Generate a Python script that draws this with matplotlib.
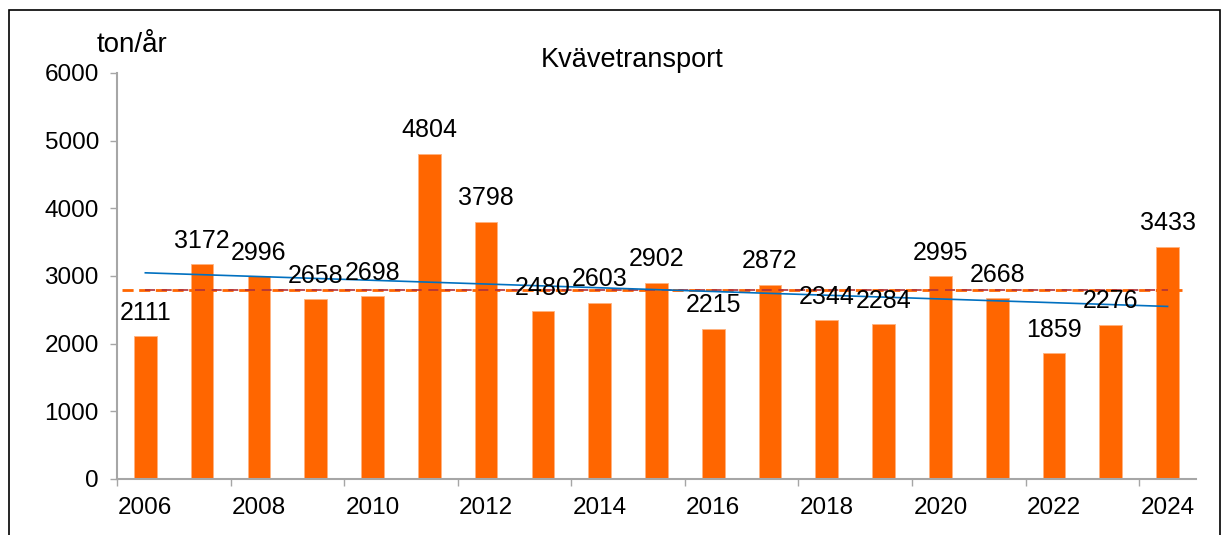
import numpy as np
import matplotlib
matplotlib.use('Agg')
import matplotlib.pyplot as plt
from matplotlib.patches import Rectangle

plt.rcParams['font.family'] = ['Liberation Sans', 'DejaVu Sans']

#==============================================================================
# data
#==============================================================================
years = [2006, 2007, 2008, 2009, 2010, 2011, 2012, 2013, 2014, 2015,
         2016, 2017, 2018, 2019, 2020, 2021, 2022, 2023, 2024]
kvave = [2111, 3172, 2996, 2658, 2698, 4804, 3798, 2480, 2603, 2902,
         2215, 2872, 2344, 2284, 2995, 2668, 1859, 2276, 3433]
title = 'Kvävetransport'
ylabel = 'ton/år'

x = np.arange(len(years))
vals = np.array(kvave, dtype=float)
medel = vals.mean()
k, m = np.polyfit(x, vals, 1)

#==============================================================================
# figure
#==============================================================================
fig = plt.figure(figsize=(12.22, 5.35), dpi=100)
ax = fig.add_axes([0.0957, 0.1047, 0.9787 - 0.0957, 0.8636 - 0.1047])

gray = '#A6A6A6'
ax.bar(x, vals, width=0.4, color='#FF6600', edgecolor='#FFB27F', linewidth=0.6, zorder=2)

for xi, v in zip(x, vals):
    ax.annotate('%d' % v, (xi, v), xytext=(0, 17), textcoords='offset points',
                ha='center', va='center', fontsize=18, zorder=5)

# mean lines
ax.plot([-0.41, 18.25], [medel, medel], color='#FF6600', linestyle=(0, (4, 2)), linewidth=2, zorder=3)
ax.plot([0, 18], [medel, medel], color='#B0303A', linestyle=(0, (6, 4)), linewidth=1.2, zorder=3)
# trend
ax.plot([0, 18], [m, m + k * 18], color='#0070C0', linewidth=1.2, zorder=4)

ax.set_xlim(-0.5, 18.5)
ax.set_ylim(0, 6000)
ax.set_yticks(np.arange(0, 6001, 1000))
ax.set_xticks(np.arange(-0.5, 18, 2))
ax.set_xticklabels([])
ax.set_xticks(x[::2], minor=True)
ax.set_xticklabels([str(y) for y in years[::2]], minor=True)

ax.tick_params(axis='y', length=5, width=1, color=gray, labelsize=17.5, pad=8)
ax.tick_params(axis='x', which='major', length=5, width=1, color=gray)
ax.tick_params(axis='x', which='minor', length=0, labelsize=17.5, pad=13)

for s in ['top', 'right']:
    ax.spines[s].set_visible(False)
for s in ['left', 'bottom']:
    ax.spines[s].set_color(gray)
    ax.spines[s].set_linewidth(1.5)

fig.text(632 / 1222., 1 - 60 / 535., title, ha='center', va='center', fontsize=19.5)
fig.text(132 / 1222., 1 - 45 / 535., ylabel, ha='center', va='center', fontsize=20)

# chart frame
fig.patches.append(Rectangle((9 / 1222., -0.05), (1220 - 9) / 1222., 1.05 - 10 / 535.,
                             transform=fig.transFigure, fill=False, edgecolor='black',
                             linewidth=1.2))

plt.savefig('out.png', dpi=100)
